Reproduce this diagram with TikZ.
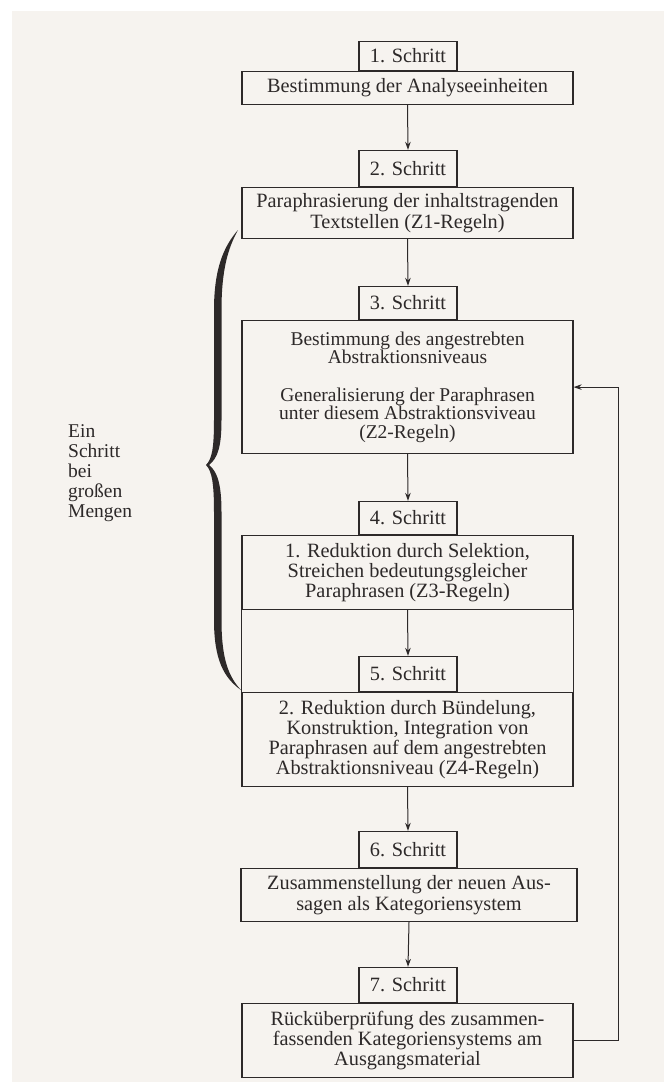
\documentclass[tikz,border=0pt]{standalone}
\usepackage{fontspec}
\setmainfont{Liberation Serif}
\usetikzlibrary{arrows.meta}
\definecolor{paper}{RGB}{246,243,239}
\definecolor{ink}{RGB}{45,41,41}
\begin{document}
\begin{tikzpicture}[x=1pt,y=-1pt,
  every node/.style={text=ink, font=\fontsize{20.3}{20.3}\selectfont},
  mainbox/.style={draw=ink, line width=1.2pt, minimum width=331pt, align=center, inner sep=0pt, anchor=north},
  stepbox/.style={draw=ink, line width=1.2pt, minimum width=98pt, inner sep=0pt, anchor=south},
  boxline/.style={draw=ink, line width=1.2pt},
  flow/.style={draw=ink, line width=1pt, -{Stealth[length=8pt,width=5.5pt]}}
]
% page
\fill[white] (0,0) rectangle (664,1082);
\fill[paper] (12,11) rectangle (664,1082);
\useasboundingbox (0,0) rectangle (664,1082);

% step 1
\node[mainbox, minimum height=33pt] (m1) at (407.5,71) {Bestimmung der Analyseeinheiten};
\node[stepbox, minimum height=29pt] (s1) at (408,71) {1. Schritt};
% step 2
\node[mainbox, minimum height=51pt] (m2) at (407.5,187) {Paraphrasierung der inhaltstragenden\\Textstellen (Z1-Regeln)};
\node[stepbox, minimum height=36pt] (s2) at (408,187) {2. Schritt};
% step 3
\node[mainbox, minimum height=133pt, font=\fontsize{19.5}{18.7}\selectfont] (m3) at (407.5,320)
  {Bestimmung des angestrebten\\Abstraktionsniveaus\\[18.7pt]Generalisierung der Paraphrasen\\unter diesem Abstraktionsviveau\\(Z2-Regeln)};
\node[stepbox, minimum height=33pt] (s3) at (408,320) {3. Schritt};
% step 4
\node[mainbox, minimum height=74pt] (m4) at (407.5,535) {1. Reduktion durch Selektion,\\Streichen bedeutungsgleicher\\Paraphrasen (Z3-Regeln)};
\node[stepbox, minimum height=33pt] (s4) at (408,535) {4. Schritt};
% step 5
\node[mainbox, minimum height=94pt] (m5) at (407.5,692) {2. Reduktion durch Bündelung,\\Konstruktion, Integration von\\Paraphrasen auf dem angestrebten\\Abstraktionsniveau (Z4-Regeln)};
\node[stepbox, minimum height=35pt] (s5) at (408,692) {5. Schritt};
% step 6
\node[mainbox, minimum height=53pt, minimum width=336pt] (m6) at (409,868) {Zusammenstellung der neuen Aus-\\sagen als Kategoriensystem};
\node[stepbox, minimum height=36pt] (s6) at (408,868) {6. Schritt};
% step 7
\node[mainbox, minimum height=74pt] (m7) at (407.5,1003) {Rücküberprüfung des zusammen-\\fassenden Kategoriensystems am\\Ausgangsmaterial};
\node[stepbox, minimum height=35pt] (s7) at (408,1003) {7. Schritt};

% compartment joining steps 4 and 5
\draw[boxline] (m4.south west) -- (m5.north west) (m4.south east) -- (m5.north east);

% flow arrows
\draw[flow] (m1.south) -- (s2.north);
\draw[flow] (m2.south) -- (s3.north);
\draw[flow] (m3.south) -- (s4.north);
\draw[flow] (m4.south) -- (s5.north);
\draw[flow] (m5.south) -- (s6.north);
\draw[flow] (m6.south) -- (s7.north);

% feedback loop
\coordinate (loop) at (618,0);
\draw[flow] (m7.east) -- (m7.east -| loop) |- (m3.east);

% curly brace
\fill[ink] (238,230)
  .. controls (224,246) and (214,268) .. (214,310) -- (214,420)
  .. controls (214,448) and (212,459) .. (206,465)
  .. controls (212,471) and (214,484) .. (214,512) -- (214,620)
  .. controls (214,660) and (224,678) .. (241,690)
  .. controls (229,677) and (221.5,660) .. (221.5,620) -- (221.5,512)
  .. controls (221.5,486) and (218,472) .. (209,465)
  .. controls (218,458) and (221.5,446) .. (221.5,420) -- (221.5,310)
  .. controls (221.5,270) and (228,248) .. (238,230) -- cycle;

\node[align=left, anchor=north west, inner sep=0pt, font=\fontsize{19.5}{20}\selectfont] (lbl) at (68,424)
  {Ein\\Schritt\\bei\\großen\\Mengen};
\end{tikzpicture}
\end{document}
